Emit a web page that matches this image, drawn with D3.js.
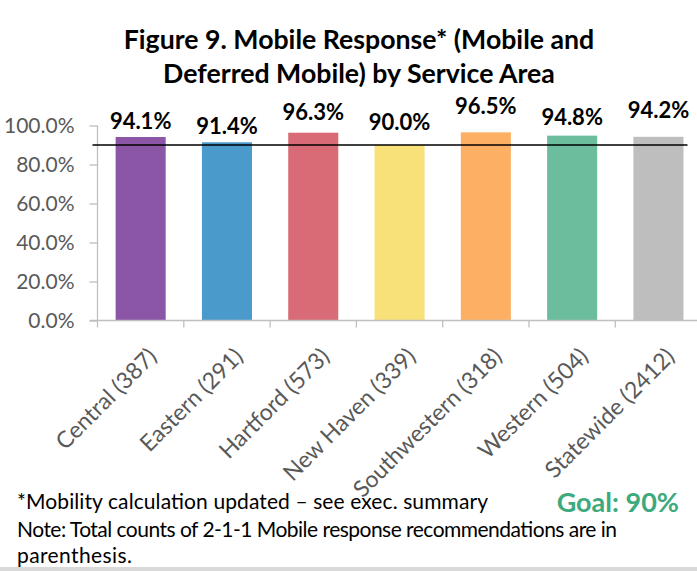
<!DOCTYPE html>
<html>
<head>
<meta charset="utf-8">
<script src="https://cdn.jsdelivr.net/npm/d3@7"></script>
<style>
  html, body { margin: 0; padding: 0; background: #fff; }
  svg { display: block; font-family: Lato, "Open Sans", sans-serif; }
</style>
</head>
<body>
<svg id="chart" width="697" height="571"></svg>
<script>
// ---- data ----
const categories = ["Central (387)", "Eastern (291)", "Hartford (573)", "New Haven (339)", "Southwestern (318)", "Western (504)", "Statewide (2412)"];
const values = [94.1, 91.4, 96.3, 90.0, 96.5, 94.8, 94.2];
const barColors = ["#8B56A6", "#4A9BCB", "#D86B75", "#F9E17A", "#FDB064", "#6CBD9E", "#BEBEBE"];
const yTicks = [0, 20, 40, 60, 80, 100];
const goal = 90;
const titleLines = ["Figure 9. Mobile Response* (Mobile and", "Deferred Mobile) by Service Area"];
const footLines = ["*Mobility calculation updated \u2013 see exec. summary", "Note: Total counts of 2-1-1 Mobile response recommendations are in", "parenthesis."];
const goalText = "Goal: 90%";
// label lift above bar tops (layout, manually staggered as in source)
const labelLift = [8, 8.5, 13, 15, 18.5, 11, 19];

// ---- layout ----
const svg = d3.select("#chart");
const x0 = 97.5, x1 = 701.6, yTop = 125.5, yBottom = 320.5;

const x = d3.scaleBand().domain(categories).range([x0, x1]).paddingInner(0.42).paddingOuter(0.21);
const y = d3.scaleLinear().domain([0, 100]).range([yBottom, yTop]);

const axisColor = "#BFBFBF";
const labelColor = "#595959";

// title
svg.append("g").selectAll("text").data(titleLines).join("text")
  .attr("x", 359).attr("y", (d, i) => 49 + i * 34)
  .attr("text-anchor", "middle")
  .attr("font-size", 26.7).attr("font-weight", "bold").attr("fill", "#000")
  .text(d => d);

// bars
svg.append("g").selectAll("rect").data(values).join("rect")
  .attr("x", (d, i) => x(categories[i]))
  .attr("width", x.bandwidth())
  .attr("y", d => y(d))
  .attr("height", d => y(0) - y(d))
  .attr("fill", (d, i) => barColors[i]);

// y axis
const yAxis = d3.axisLeft(y).tickValues(yTicks).tickSize(8).tickPadding(15)
  .tickFormat(d => d3.format(".1f")(d) + "%");
const gy = svg.append("g").attr("transform", `translate(${x0},0)`).call(yAxis);
gy.select(".domain").attr("stroke", axisColor).attr("stroke-width", 1.3).attr("d", `M0,${yTop}V${yBottom}`);
gy.selectAll(".tick line").attr("stroke", axisColor).attr("stroke-width", 1.3);
gy.selectAll(".tick text").attr("fill", labelColor).attr("font-size", 21).attr("font-family", "Lato, sans-serif");

// x axis
const gx = svg.append("g").attr("transform", `translate(0,${yBottom})`);
gx.append("line").attr("x1", x0 - 8).attr("x2", x1).attr("y1", 0).attr("y2", 0)
  .attr("stroke", axisColor).attr("stroke-width", 1.3);
const boundaries = d3.range(categories.length + 1).map(i => x0 + i * x.step());
gx.selectAll("line.tk").data(boundaries).join("line").attr("class", "tk")
  .attr("x1", d => d).attr("x2", d => d).attr("y1", 0).attr("y2", 7)
  .attr("stroke", axisColor).attr("stroke-width", 1.3);

// fit category label size to source proportions (longest label ~200px)
const probe = gx.append("text").attr("font-size", 22).text(categories[4]);
const probeLen = probe.node().getComputedTextLength();
probe.remove();
const xfs = 22 * 199 / probeLen;
const k = 0.566 * xfs;
gx.selectAll("text.xl").data(categories).join("text").attr("class", "xl")
  .attr("transform", d => `translate(${x(d) + x.bandwidth() / 2 + 4.5 + k},${24.5 + k}) rotate(-45)`)
  .attr("text-anchor", "end")
  .attr("font-size", xfs).attr("fill", labelColor)
  .text(d => d);

// goal line
svg.append("line")
  .attr("x1", x0 - 5).attr("x2", x0 + 590)
  .attr("y1", y(goal)).attr("y2", y(goal))
  .attr("stroke", "#000").attr("stroke-width", 1.6);

// data labels
svg.append("g").selectAll("text").data(values).join("text")
  .attr("x", (d, i) => x(categories[i]) + x.bandwidth() / 2)
  .attr("y", (d, i) => y(d) - labelLift[i])
  .attr("text-anchor", "middle")
  .attr("font-size", 22).attr("font-weight", "bold").attr("fill", "#000")
  .text(d => d3.format(".1f")(d) + "%");

// footnotes
const footLen = [471, 600, 115];
svg.append("g").selectAll("text").data(footLines).join("text")
  .attr("x", 17).attr("y", (d, i) => [509, 537, 563][i])
  .attr("font-size", 21).attr("fill", "#000")
  .attr("textLength", (d, i) => footLen[i]).attr("lengthAdjust", "spacing")
  .text(d => d);

svg.append("text").attr("x", 679).attr("y", 512)
  .attr("text-anchor", "end").attr("font-size", 27).attr("font-weight", "bold")
  .attr("fill", "#3DAA7D").text(goalText);

// bottom strip
svg.append("rect").attr("x", 0).attr("y", 567).attr("width", 697).attr("height", 4).attr("fill", "#D9D9D9");
</script>
</body>
</html>
